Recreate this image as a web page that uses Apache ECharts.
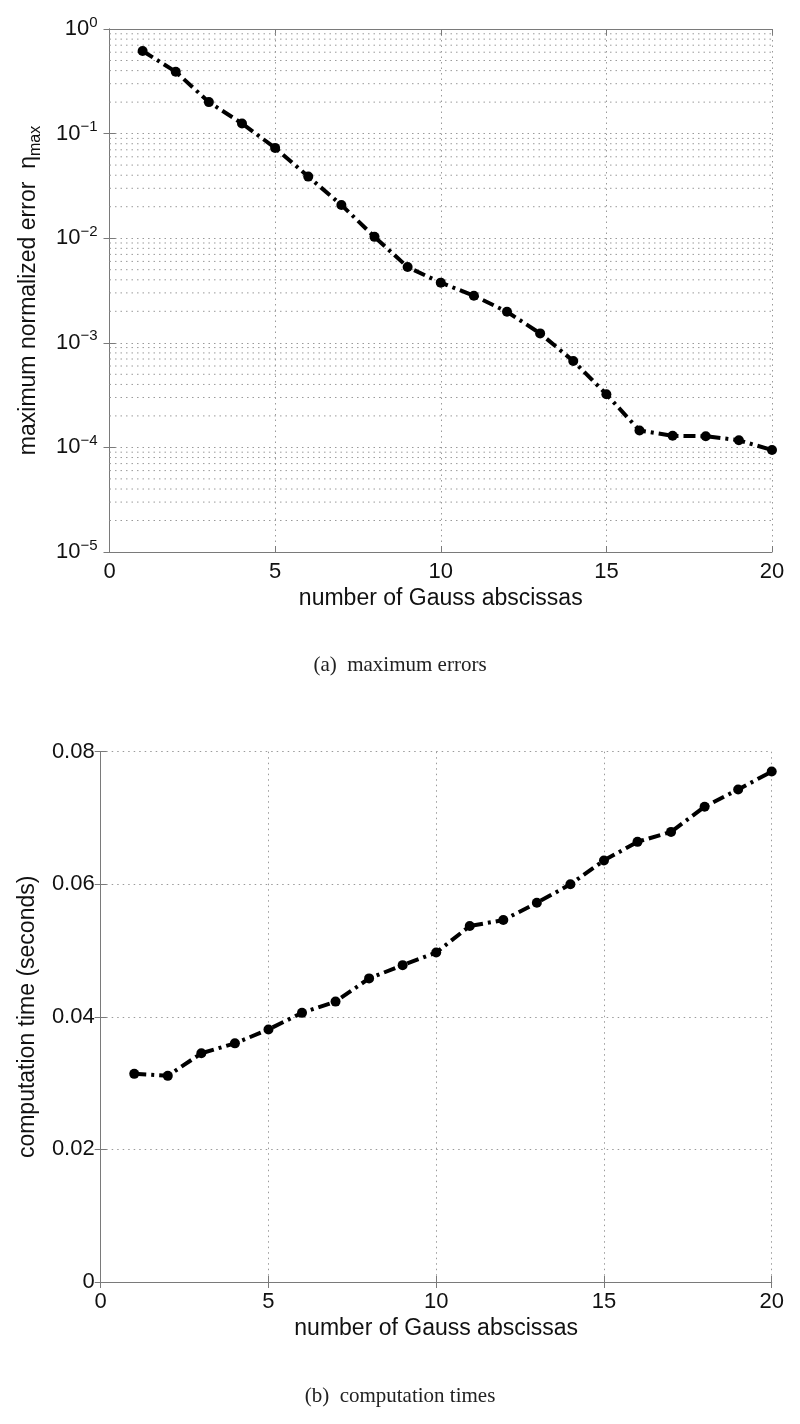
<!DOCTYPE html>
<html>
<head>
<meta charset="utf-8">
<script src="https://cdn.jsdelivr.net/npm/echarts@6/dist/echarts.min.js"></script>
<style>
html,body{margin:0;padding:0;background:#fff;}
#c{width:800px;height:1424px;}
</style>
</head>
<body>
<div id="c"></div>
<script>
// ---- data ----
const abscissas = [1,2,3,4,5,6,7,8,9,10,11,12,13,14,15,16,17,18,19,20];
const maxError = [0.616,0.39,0.20,0.125,0.073,0.0388,0.0208,0.0103,0.0053,0.00376,0.00282,0.00198,0.00123,0.00067,0.000322,0.000145,0.000129,0.000128,0.000117,0.0000945];
const compTime = [0.0314,0.0311,0.0345,0.0360,0.0381,0.0406,0.0423,0.0458,0.0478,0.0497,0.0537,0.0546,0.0572,0.0600,0.0636,0.0664,0.0679,0.0717,0.0743,0.0770];
const xTicks = [0,5,10,15,20];
const logDecades = [1e-5,1e-4,1e-3,1e-2,1e-1];
const logMantissas = [2,3,4,5,6,7,8,9];
const timeTicks = [0,0.02,0.04,0.06,0.08];
const captionA = '(a)  maximum errors';
const captionB = '(b)  computation times';
const xTitle = 'number of Gauss abscissas';
const yTitleA = 'maximum normalized error  η';
const yTitleB = 'computation time (seconds)';

// ---- styles ----
const SANS = '"Liberation Sans", Arial, sans-serif';
const SERIF = '"Liberation Serif", "DejaVu Serif", serif';
const BOX = '#7a7a7a';
const GRIDC = '#9a9a9a';
const TXT = '#111';

const minorValues = [];
logDecades.forEach(d => logMantissas.forEach(m => minorValues.push(+(d * m).toPrecision(3))));

const chart = echarts.init(document.getElementById('c'), null, {renderer: 'canvas'});

function pairs(ys){ return abscissas.map((x,i)=>[x, ys[i]]); }

const tickStyle = {show:true, inside:true, length:6, lineStyle:{color:BOX, width:1}};
const gridLine = {show:true, lineStyle:{color:GRIDC, type:[1.5,4], width:1}};

const lineSeriesStyle = {
  type:'line',
  symbol:'circle',
  symbolSize:10,
  itemStyle:{color:'#000'},
  lineStyle:{color:'#000', width:4, type:[12,5,3,5], cap:'butt'},
  z:5
};

const minorSeries = minorValues.map(v => ({
  type:'line', xAxisIndex:0, yAxisIndex:0, silent:true, symbol:'none', z:1,
  lineStyle:{color:GRIDC, width:1, type:[1.5,4]},
  emphasis:{disabled:true}, tooltip:{show:false},
  data:[[xTicks[0], v], [xTicks[xTicks.length-1], v]]
}));

const option = {
  animation:false,
  backgroundColor:'#fff',
  grid:[
    {left:109.5, top:29, width:662.5, height:523, containLabel:false},
    {left:100.7, top:751.7, width:671, height:530.3, containLabel:false}
  ],
  xAxis:[
    {gridIndex:0, type:'value', min:0, max:20, interval:5, position:'bottom',
      axisLine:{show:true, lineStyle:{color:BOX}}, axisTick:tickStyle,
      axisLabel:{fontFamily:SANS, fontSize:22, color:TXT, margin:9},
      splitLine:gridLine,
      name:xTitle, nameLocation:'middle', nameGap:35,
      nameTextStyle:{fontFamily:SANS, fontSize:23, color:TXT}},
    {gridIndex:0, type:'value', min:0, max:20, interval:5, position:'top',
      axisLine:{show:true, lineStyle:{color:BOX}}, axisTick:tickStyle,
      axisLabel:{show:false}, splitLine:{show:false}},
    {gridIndex:1, type:'value', min:0, max:20, interval:5, position:'bottom',
      axisLine:{show:true, lineStyle:{color:BOX}}, axisTick:tickStyle,
      axisLabel:{fontFamily:SANS, fontSize:22, color:TXT, margin:9},
      splitLine:gridLine,
      name:xTitle, nameLocation:'middle', nameGap:35,
      nameTextStyle:{fontFamily:SANS, fontSize:23, color:TXT}},
    {gridIndex:1, type:'value', min:0, max:20, interval:5, position:'top',
      axisLine:{show:true, lineStyle:{color:BOX}}, axisTick:tickStyle,
      axisLabel:{show:false}, splitLine:{show:false}}
  ],
  yAxis:[
    {gridIndex:0, type:'log', logBase:10, min:1e-5, max:1, position:'left',
      axisLine:{show:true, lineStyle:{color:BOX}}, axisTick:tickStyle,
      axisLabel:{margin:12, color:TXT,
        formatter:function(v){ const e = Math.round(Math.log10(v)); return '{b|10}{s|' + (e<0 ? '\u2212' + (-e) : e) + '}'; },
        rich:{
          b:{fontFamily:SANS, fontSize:22, color:TXT, lineHeight:28},
          s:{fontFamily:SANS, fontSize:15, color:TXT, lineHeight:12, verticalAlign:'top'}
        }},
      splitLine:gridLine,
      name:'{n|' + yTitleA + '}{m|max}', nameLocation:'middle', nameGap:66,
      nameTextStyle:{
        rich:{
          n:{fontFamily:SANS, fontSize:23, color:TXT, lineHeight:30},
          m:{fontFamily:SANS, fontSize:16, color:TXT, lineHeight:14, verticalAlign:'bottom'}
        }}},
    {gridIndex:0, type:'log', logBase:10, min:1e-5, max:1, position:'right',
      axisLine:{show:true, lineStyle:{color:BOX}}, axisTick:tickStyle,
      axisLabel:{show:false}, splitLine:{show:false}},
    {gridIndex:1, type:'value', min:0, max:0.08, interval:0.02, position:'left',
      axisLine:{show:true, lineStyle:{color:BOX}}, axisTick:tickStyle,
      axisLabel:{fontFamily:SANS, fontSize:22, color:TXT, margin:6},
      splitLine:gridLine,
      name:yTitleB, nameLocation:'middle', nameGap:62,
      nameTextStyle:{fontFamily:SANS, fontSize:23, color:TXT}},
    {gridIndex:1, type:'value', min:0, max:0.08, interval:0.02, position:'right',
      axisLine:{show:true, lineStyle:{color:BOX}}, axisTick:tickStyle,
      axisLabel:{show:false}, splitLine:{show:false}}
  ],
  series:[
    Object.assign({}, lineSeriesStyle, {
      name:'maxError', xAxisIndex:0, yAxisIndex:0, data:pairs(maxError)
    }),
    Object.assign({}, lineSeriesStyle, {
      name:'compTime', xAxisIndex:2, yAxisIndex:2, data:pairs(compTime)
    })
  ].concat(minorSeries),
  graphic:[
    {type:'text', left:'center', top:655, style:{text:captionA, font:'21px ' + SERIF, fill:'#222'}},
    {type:'text', left:'center', top:1386, style:{text:captionB, font:'21px ' + SERIF, fill:'#222'}}
  ]
};
chart.setOption(option);
</script>
</body>
</html>
